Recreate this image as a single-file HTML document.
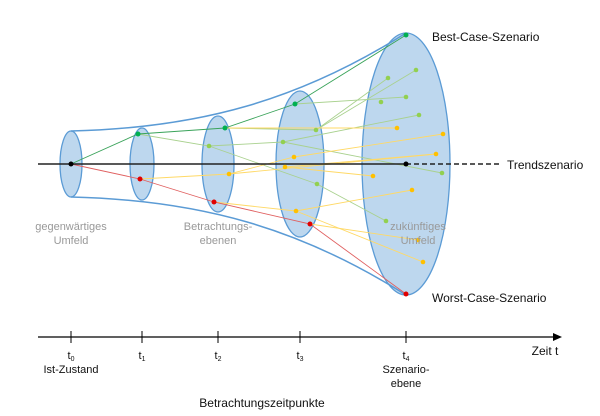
<!DOCTYPE html><html><head><style>body{margin:0;background:#fff}svg{display:block}text{font-family:"Liberation Sans",sans-serif}</style></head><body>
<svg width="600" height="416" viewBox="0 0 600 416">
<path d="M71,131 C200,128 300,100 406,33 L406,295 C300,228 200,200 71,197 Z" fill="#fff"/>
<g fill="#bdd7ee" stroke="#5b9bd5" stroke-width="1.3">
<ellipse cx="406" cy="164" rx="44" ry="131"/>
<ellipse cx="300" cy="164" rx="24" ry="73"/>
<ellipse cx="218" cy="164" rx="16" ry="48"/>
<ellipse cx="142" cy="164" rx="12" ry="36"/>
<ellipse cx="71" cy="164" rx="11" ry="33"/>
</g>
<path d="M71,131 C200,128 300,100 406,33 M71,197 C200,200 300,228 406,295" fill="none" stroke="#5b9bd5" stroke-width="1.5"/>
<g stroke-width="0.9" fill="none">
<g stroke="#a9d18e">
<path d="M138,134 L209,146 L317,184 L386,221"/><path d="M225,128 L316,130 L388,78"/><path d="M316,130 L416,70"/><path d="M283,142 L419,115"/><path d="M295,104 L406,97"/><path d="M283,142 L442,173"/><path d="M209,146 L283,142"/>
</g>
<g stroke="#ffd966">
<path d="M140,179 L229,174 L294,157 L443,134"/><path d="M225,128 L397,128"/><path d="M229,174 L436,154"/><path d="M285,167 L373,176"/><path d="M214,202 L296,211 L412,190"/><path d="M310,224 L418,240"/><path d="M296,211 L423,262"/><path d="M285,167 L436,154"/>
</g>
<path d="M71,164 L138,134 L225,128 L295,104 L406,35" stroke="#3aa35a"/>
<path d="M71,164 L140,179 L214,202 L310,224 L406,294" stroke="#e06060"/>
</g>
<line x1="38" y1="164" x2="406" y2="164" stroke="#222" stroke-width="1.5"/>
<line x1="406" y1="164" x2="500" y2="164" stroke="#222" stroke-width="1.5" stroke-dasharray="5,3"/>
<g fill="#92d050"><circle cx="209" cy="146" r="2.3"/><circle cx="316" cy="130" r="2.3"/><circle cx="283" cy="142" r="2.3"/><circle cx="317" cy="184" r="2.3"/><circle cx="388" cy="78" r="2.3"/><circle cx="416" cy="70" r="2.3"/><circle cx="381" cy="102" r="2.3"/><circle cx="406" cy="97" r="2.3"/><circle cx="419" cy="115" r="2.3"/><circle cx="442" cy="173" r="2.3"/><circle cx="386" cy="221" r="2.3"/></g>
<g fill="#ffc000"><circle cx="229" cy="174" r="2.3"/><circle cx="294" cy="157" r="2.3"/><circle cx="285" cy="167" r="2.3"/><circle cx="296" cy="211" r="2.3"/><circle cx="397" cy="128" r="2.3"/><circle cx="443" cy="134" r="2.3"/><circle cx="436" cy="154" r="2.3"/><circle cx="373" cy="176" r="2.3"/><circle cx="412" cy="190" r="2.3"/><circle cx="418" cy="240" r="2.3"/><circle cx="423" cy="262" r="2.3"/></g>
<g fill="#00b050"><circle cx="138" cy="134" r="2.5"/><circle cx="225" cy="128" r="2.5"/><circle cx="295" cy="104" r="2.5"/><circle cx="406" cy="35" r="2.5"/></g>
<g fill="#e00000"><circle cx="140" cy="179" r="2.5"/><circle cx="214" cy="202" r="2.5"/><circle cx="310" cy="224" r="2.5"/><circle cx="406" cy="294" r="2.5"/></g>
<circle cx="71" cy="164" r="2.5" fill="#000"/><circle cx="406" cy="164" r="2.5" fill="#000"/>
<g font-size="12" fill="#111">
<text x="432" y="41">Best-Case-Szenario</text>
<text x="507" y="169">Trendszenario</text>
<text x="432" y="302">Worst-Case-Szenario</text>
</g>
<g font-size="11" fill="#999" text-anchor="middle">
<text x="71" y="230">gegenwärtiges</text><text x="71" y="244">Umfeld</text>
<text x="218" y="230">Betrachtungs-</text><text x="218" y="244">ebenen</text>
<text x="418" y="230">zukünftiges</text><text x="418" y="244">Umfeld</text>
</g>
<line x1="38" y1="337" x2="555" y2="337" stroke="#000" stroke-width="1.3"/>
<path d="M562,337 L553,333 L553,341 Z" fill="#000"/>
<g stroke="#000" stroke-width="1"><line x1="71" y1="331" x2="71" y2="343"/><line x1="142" y1="331" x2="142" y2="343"/><line x1="218" y1="331" x2="218" y2="343"/><line x1="300" y1="331" x2="300" y2="343"/><line x1="406" y1="331" x2="406" y2="343"/></g>
<g font-size="11" fill="#111" text-anchor="middle">
<text x="71" y="359">t<tspan font-size="7" dy="2">0</tspan></text>
<text x="142" y="359">t<tspan font-size="7" dy="2">1</tspan></text>
<text x="218" y="359">t<tspan font-size="7" dy="2">2</tspan></text>
<text x="300" y="359">t<tspan font-size="7" dy="2">3</tspan></text>
<text x="406" y="359">t<tspan font-size="7" dy="2">4</tspan></text>
<text x="71" y="373">Ist-Zustand</text>
<text x="406" y="373">Szenario-</text><text x="406" y="387">ebene</text>
<text x="545" y="355" font-size="12">Zeit t</text>
<text x="262" y="407" font-size="12">Betrachtungszeitpunkte</text>
</g>
</svg></body></html>
